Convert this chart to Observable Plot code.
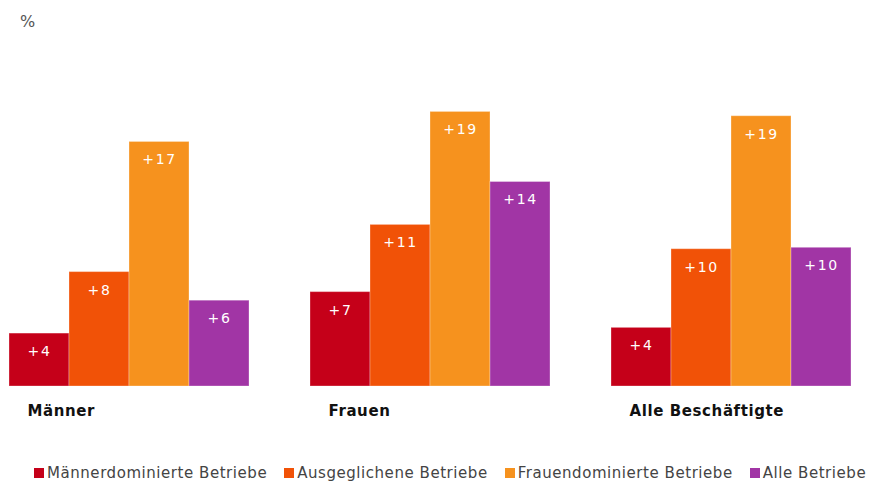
<!DOCTYPE html>
<html>
<head>
<meta charset="utf-8">
<script src="https://cdn.jsdelivr.net/npm/d3@7"></script>
<script src="https://cdn.jsdelivr.net/npm/@observablehq/plot@0.6"></script>
<style>
html, body { margin: 0; padding: 0; background: #fff; overflow: hidden; }
body { font-family: "DejaVu Sans", sans-serif; width: 871px; height: 483px; position: relative; }
#chart { position: absolute; left: 0; top: 0; }
#chart svg text { letter-spacing: 0.6px; }
#chart g[fill="white"] text { letter-spacing: 1.6px; }
#unit { position: absolute; left: 20px; top: 13px; font-size: 16px; line-height: 18px; color: #555; }
#legend { position: absolute; left: 34px; top: 464px; display: flex; gap: 17px; font-size: 15px; line-height: 18px; color: #444; white-space: nowrap; letter-spacing: 0.55px; }
#legend .item { display: flex; align-items: baseline; }
#legend .sw { display: inline-block; width: 10px; height: 10px; margin-right: 3px; }
</style>
</head>
<body>
<div id="chart"></div>
<div id="unit">%</div>
<div id="legend"></div>
<script>
const groups = ["Männer", "Frauen", "Alle Beschäftigte"];
const series = ["Männerdominierte Betriebe", "Ausgeglichene Betriebe", "Frauendominierte Betriebe", "Alle Betriebe"];
const colors = ["#C50019", "#F15207", "#F6921E", "#A135A5"];

const valuesMaenner = [3.7, 8.0, 17.1, 6.0];
const valuesFrauen = [6.6, 11.3, 19.2, 14.3];
const valuesAlle = [4.1, 9.6, 18.9, 9.7];

const labelsMaenner = ["+4", "+8", "+17", "+6"];
const labelsFrauen = ["+7", "+11", "+19", "+14"];
const labelsAlle = ["+4", "+10", "+19", "+10"];

const allValues = [valuesMaenner, valuesFrauen, valuesAlle];
const allLabels = [labelsMaenner, labelsFrauen, labelsAlle];

const data = [];
groups.forEach((g, gi) => {
  series.forEach((s, si) => {
    data.push({group: g, series: s, value: allValues[gi][si], label: allLabels[gi][si]});
  });
});

const chart = Plot.plot({
  width: 871,
  height: 440,
  marginLeft: 8,
  marginRight: 20,
  marginTop: 100,
  marginBottom: 54,
  style: {fontFamily: "DejaVu Sans, sans-serif", background: "transparent"},
  fx: {domain: groups, paddingInner: 0.2, paddingOuter: 0, axis: null},
  x: {domain: series, padding: 0, axis: null},
  y: {domain: [0, 20], axis: null},
  color: {domain: series, range: colors},
  marks: [
    Plot.barY(data, {fx: "group", x: "series", y: "value", fill: "series", stroke: "white", strokeOpacity: 0.3, strokeWidth: 1}),
    Plot.text(data, {fx: "group", x: "series", y: "value", text: "label", fill: "white", dy: 18, fontSize: 14}),
    Plot.text(groups, {fx: d => d, text: d => d, frameAnchor: "bottom-left", textAnchor: "start", dx: 19, dy: 29, fontWeight: "bold", fontSize: 15, fill: "#111"})
  ]
});
document.getElementById("chart").appendChild(chart);

const legend = document.getElementById("legend");
series.forEach((s, i) => {
  const item = document.createElement("div");
  item.className = "item";
  const sw = document.createElement("span");
  sw.className = "sw";
  sw.style.background = colors[i];
  const t = document.createElement("span");
  t.textContent = s;
  item.appendChild(sw);
  item.appendChild(t);
  legend.appendChild(item);
});
</script>
</body>
</html>
